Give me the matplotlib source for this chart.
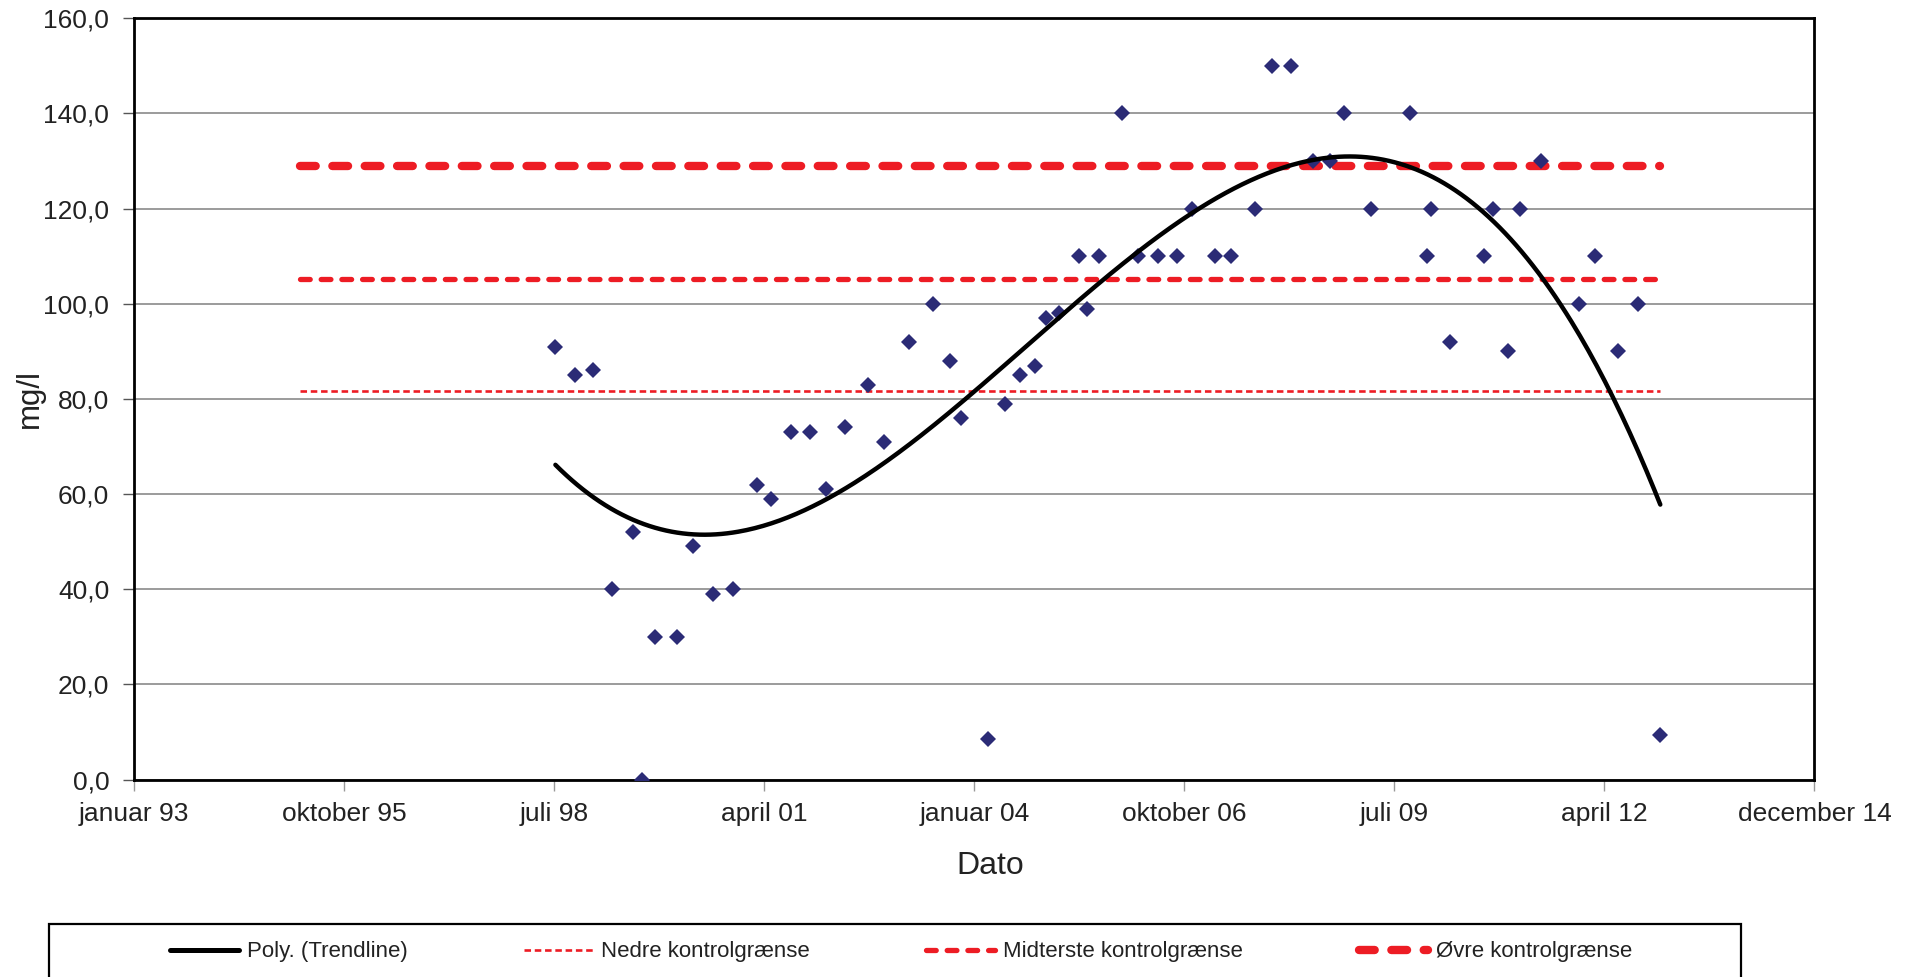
import numpy as np
import matplotlib
matplotlib.use("Agg")
import matplotlib.pyplot as plt
from matplotlib.lines import Line2D
from matplotlib.patches import Rectangle
from matplotlib.ticker import FuncFormatter

plt.rcParams['font.family'] = ['Liberation Sans', 'DejaVu Sans']
plt.rcParams['lines.scale_dashes'] = False

# Dato som Excel-serienummer (dage siden 1899-12-30), mg/l
dato = [36005, 36098, 36182, 36275, 36375, 36415, 36477, 36583, 36661, 36754,
        36849, 36965, 37031, 37126, 37219, 37293, 37386, 37492, 37570, 37690,
        37802, 37884, 37935, 38064, 38144, 38216, 38288, 38343, 38405, 38500,
        38536, 38592, 38704, 38779, 38876, 38964, 39036, 39144, 39220, 39334,
        39418, 39508, 39610, 39695, 39759, 39890, 40073, 40156, 40175, 40265,
        40426, 40469, 40541, 40600, 40698, 40879, 40957, 41064, 41162, 41266]
mgl = [91, 85, 86, 40, 52, 0, 30, 30, 49, 39,
       40, 62, 59, 73, 73, 61, 74, 83, 71, 92,
       100, 88, 76, 8.6, 79, 85, 87, 97, 98, 110,
       99, 110, 140, 110, 110, 110, 120, 110, 110, 120,
       150, 150, 130, 130, 140, 120, 140, 110, 120, 92,
       110, 120, 90, 120, 130, 100, 110, 90, 100, 9.4]

# kontrolgrænser
graense_start = 34790
nedre = 81.6
midterste = 105.3
oevre = 129.0

x_ticks = [34000, 35000, 36000, 37000, 38000, 39000, 40000, 41000, 42000]
x_labels = ['januar 93', 'oktober 95', 'juli 98', 'april 01', 'januar 04',
            'oktober 06', 'juli 09', 'april 12', 'december 14']
y_ticks = [0, 20, 40, 60, 80, 100, 120, 140, 160]

rod = '#ED1C24'
blaa = '#2B2B76'
tekst = '#222222'

# linjestile (punkter)
stil_nedre = dict(lw=1.9, dashes=(4.7, 2.7), dash_capstyle='butt')
stil_midt = dict(lw=3.8, dashes=(7.0, 7.9), dash_capstyle='round')
stil_oevre = dict(lw=6.0, dashes=(11.3, 12.0), dash_capstyle='round')

fig = plt.figure(figsize=(19.16, 9.77), dpi=100)
ax = fig.add_axes([0.0701, 0.2021, 0.8769, 0.7792])

x = np.array(dato, dtype=float)
y = np.array(mgl, dtype=float)

# polynomisk trendlinje (3. grad), som i Excel
xm = x.mean()
coef = np.polyfit(x - xm, y, 3)
xs = np.linspace(x.min(), x.max(), 400)
ys = np.polyval(coef, xs - xm)

ax.grid(axis='y', color='#808080', lw=1.1, zorder=0)
ax.set_axisbelow(True)

xl = [graense_start, x.max()]
ax.plot(xl, [nedre, nedre], color=rod, zorder=2, **stil_nedre)
ax.plot(xl, [midterste, midterste], color=rod, zorder=2, **stil_midt)
ax.plot(xl, [oevre, oevre], color=rod, zorder=2, **stil_oevre)
ax.plot(x, y, 'D', color=blaa, ms=7.8, mew=0, linestyle='none', zorder=3)
ax.plot(xs, ys, color='black', lw=3.2, solid_capstyle='round', zorder=4)

ax.set_xlim(34000, 42000)
ax.set_ylim(0, 160)
ax.set_xticks(x_ticks)
ax.set_xticklabels(x_labels)
ax.set_yticks(y_ticks)
ax.yaxis.set_major_formatter(FuncFormatter(lambda v, p: f'{v:.1f}'.replace('.', ',')))

for s in ax.spines.values():
    s.set_linewidth(2)
    s.set_color('black')
ax.tick_params(axis='x', length=8, width=1, color='#999999', labelsize=19,
               labelcolor=tekst, pad=8)
ax.tick_params(axis='y', length=8, width=1, color='#555555', labelsize=19,
               labelcolor=tekst, pad=10)

fig.text(990 / 1916, 1 - 866 / 977, 'Dato', fontsize=23, color=tekst,
         ha='center', va='center')
fig.text(30 / 1916, 1 - 399 / 977, 'mg/l', fontsize=22.5, color=tekst,
         rotation=90, ha='center', va='center')

# legende
handles = [
    Line2D([], [], color='black', lw=3.6, solid_capstyle='round'),
    Line2D([], [], color=rod, **stil_nedre),
    Line2D([], [], color=rod, **stil_midt),
    Line2D([], [], color=rod, **stil_oevre),
]
labels = ['Poly. (Trendline)', 'Nedre kontrolgrænse', 'Midterste kontrolgrænse',
          'Øvre kontrolgrænse']
leg = fig.legend(handles, labels, loc='center', bbox_to_anchor=(901 / 1916, 1 - 952 / 977),
                 ncol=4, frameon=False, fontsize=16, handlelength=3.1,
                 handletextpad=0.36, columnspacing=5.23)
for t in leg.get_texts():
    t.set_color(tekst)

fig.add_artist(Rectangle((49 / 1916, -0.1), (1741 - 49) / 1916, 0.1 + 1 - 924 / 977,
                         transform=fig.transFigure, fill=False, lw=1.6, ec='black'))

fig.savefig('out.png', dpi=100)
